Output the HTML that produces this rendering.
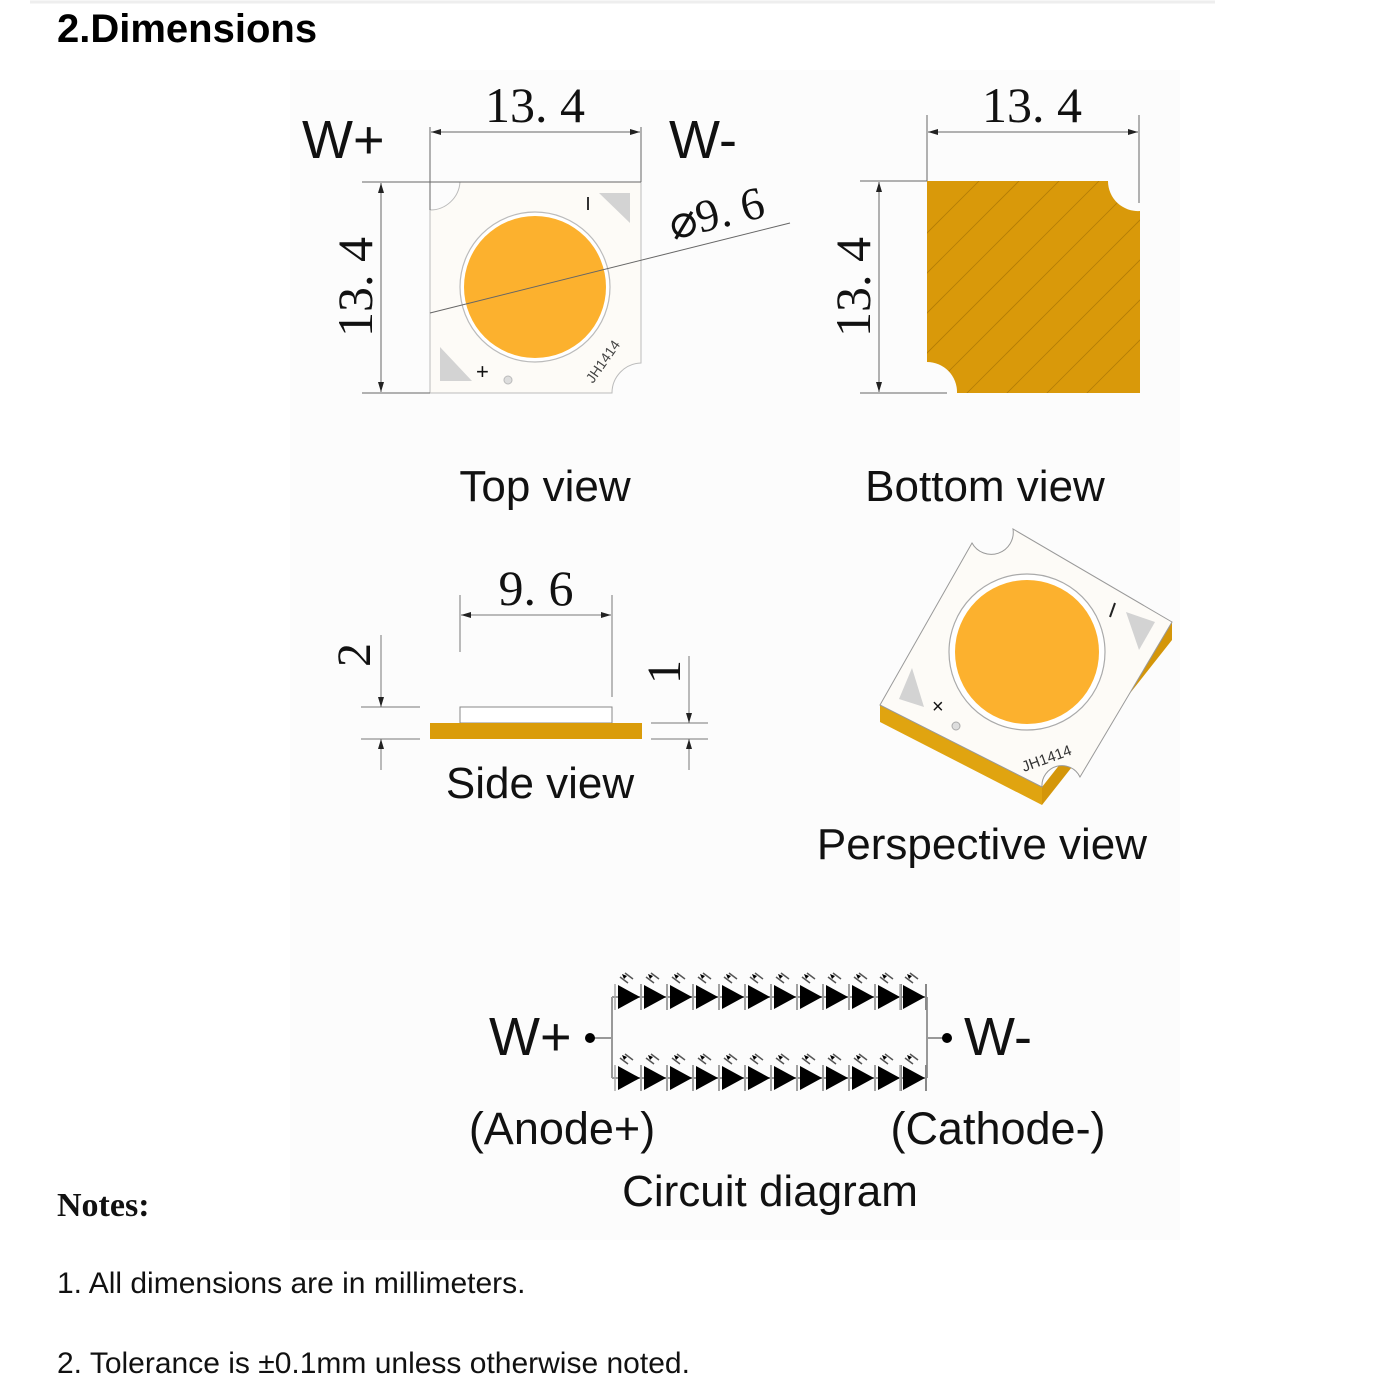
<!DOCTYPE html>
<html><head><meta charset="utf-8"><style>
html,body{margin:0;padding:0;background:#fff;}
svg{display:block}
</style></head><body>
<svg width="1400" height="1400" viewBox="0 0 1400 1400" xmlns="http://www.w3.org/2000/svg">
<defs>
<marker id="ar" viewBox="0 0 10 6" refX="10" refY="3" markerWidth="10" markerHeight="6" orient="auto-start-reverse" markerUnits="userSpaceOnUse"><path d="M0,0L10,3L0,6z" fill="#222"/></marker>
<g id="d">
<path d="M0,-12L0,12L22,0z" fill="#000"/>
<line x1="23" y1="-13" x2="23" y2="13" stroke="#888" stroke-width="2"/>
<line x1="-3" y1="-13" x2="-3" y2="13" stroke="#aaa" stroke-width="1.5"/>
<line x1="2" y1="-20" x2="10" y2="-14" stroke="#555" stroke-width="1.5"/>
<line x1="7" y1="-24" x2="15" y2="-18" stroke="#555" stroke-width="1.5"/>
<path d="M4,-23l5,2l-3,3z" fill="#000"/>
</g>
</defs>
<rect width="1400" height="1400" fill="#fff"/>
<rect x="290" y="70" width="890" height="1170" fill="#fcfcfc"/>
<line x1="30" y1="2" x2="1215" y2="2" stroke="#eee" stroke-width="3"/>
<text x="57" y="42" font-family="Liberation Sans, sans-serif" font-weight="bold" font-size="40">2.Dimensions</text>

<g font-family="Liberation Serif, serif" fill="#111">
<!-- TOP VIEW -->
<path d="M430,210 A30,30 0 0 0 460,182 L641,182 L641,363 A30,30 0 0 0 612,393 L430,393 Z" fill="#fdfbf7" stroke="#bbb" stroke-width="1"/>
<circle cx="535" cy="287" r="75" fill="#fff" stroke="#bbb" stroke-width="1.2"/>
<circle cx="535" cy="287" r="71" fill="#fcb12e"/>
<path d="M599,193L630,193L630,223z" fill="#d3d3d3"/>
<path d="M440,347L440,381L472,381z" fill="#d3d3d3"/>
<line x1="588" y1="197" x2="588" y2="210" stroke="#333" stroke-width="2"/>
<text x="476" y="379" font-family="Liberation Sans, sans-serif" font-size="22">+</text>
<circle cx="508" cy="380" r="4" fill="#ddd" stroke="#bbb"/>
<text transform="translate(593,384) rotate(-55)" font-family="Liberation Sans, sans-serif" font-size="14" fill="#444">JH1414</text>
<g stroke="#666" stroke-width="1" fill="none">
<line x1="430" y1="127" x2="430" y2="210"/>
<line x1="641" y1="127" x2="641" y2="182"/>
<line x1="362" y1="182" x2="641" y2="182"/>
<line x1="362" y1="393" x2="430" y2="393"/>
<line x1="431" y1="132" x2="640" y2="132" marker-start="url(#ar)" marker-end="url(#ar)"/>
<line x1="381" y1="183" x2="381" y2="392" marker-start="url(#ar)" marker-end="url(#ar)"/>
<line x1="430" y1="313" x2="790" y2="223"/>
</g>
<text x="535" y="122" font-size="50" text-anchor="middle">13. 4</text>
<text transform="translate(372,287) rotate(-90)" font-size="50" text-anchor="middle">13. 4</text>
<text transform="translate(720,228) rotate(-14)" font-size="46" text-anchor="middle">⌀9. 6</text>
<text x="302" y="158" font-family="Liberation Sans, sans-serif" font-size="54">W+</text>
<text x="669" y="158" font-family="Liberation Sans, sans-serif" font-size="54">W-</text>

<!-- BOTTOM VIEW -->
<clipPath id="bc"><path d="M927,181 L1108,181 A30,30 0 0 0 1140,211 L1140,393 L957,393 A30,30 0 0 0 927,362 Z"/></clipPath>
<path d="M927,181 L1108,181 A30,30 0 0 0 1140,211 L1140,393 L957,393 A30,30 0 0 0 927,362 Z" fill="#d9990a"/>
<g clip-path="url(#bc)" stroke="#9a6a05" stroke-width="0.8" opacity="0.6">
<line x1="860" y1="460" x2="1140" y2="180"/>
<line x1="900" y1="460" x2="1180" y2="180"/>
<line x1="940" y1="460" x2="1220" y2="180"/>
<line x1="820" y1="460" x2="1100" y2="180"/>
<line x1="780" y1="460" x2="1060" y2="180"/>
<line x1="740" y1="460" x2="1020" y2="180"/>
<line x1="980" y1="460" x2="1260" y2="180"/>
<line x1="1020" y1="460" x2="1300" y2="180"/>
<line x1="700" y1="460" x2="980" y2="180"/>
</g>
<g stroke="#666" stroke-width="1" fill="none">
<line x1="927" y1="115" x2="927" y2="181"/>
<line x1="1139" y1="115" x2="1139" y2="203"/>
<line x1="860" y1="181" x2="927" y2="181"/>
<line x1="860" y1="393" x2="947" y2="393"/>
<line x1="928" y1="132" x2="1138" y2="132" marker-start="url(#ar)" marker-end="url(#ar)"/>
<line x1="879" y1="182" x2="879" y2="392" marker-start="url(#ar)" marker-end="url(#ar)"/>
</g>
<text x="1032" y="122" font-size="50" text-anchor="middle">13. 4</text>
<text transform="translate(870,287) rotate(-90)" font-size="50" text-anchor="middle">13. 4</text>
</g>

<g font-family="Liberation Sans, sans-serif" fill="#111" font-size="44">
<text x="545" y="501" text-anchor="middle">Top view</text>
<text x="985" y="501" text-anchor="middle">Bottom view</text>
<text x="540" y="798" text-anchor="middle">Side view</text>
<text x="982" y="859" text-anchor="middle">Perspective view</text>
</g>

<!-- SIDE VIEW -->
<g font-family="Liberation Serif, serif" fill="#111">
<rect x="460" y="707" width="152" height="16" fill="#fff" stroke="#888"/>
<rect x="430" y="723" width="212" height="16" fill="#da9c0a"/>
<g stroke="#777" stroke-width="1" fill="none">
<line x1="460" y1="595" x2="460" y2="652"/>
<line x1="612" y1="595" x2="612" y2="697"/>
<line x1="461" y1="615" x2="611" y2="615" marker-start="url(#ar)" marker-end="url(#ar)"/>
<line x1="361" y1="707" x2="420" y2="707"/>
<line x1="361" y1="739" x2="420" y2="739"/>
<line x1="381" y1="635" x2="381" y2="707" marker-end="url(#ar)"/>
<line x1="381" y1="770" x2="381" y2="739" marker-end="url(#ar)"/>
<line x1="651" y1="723" x2="708" y2="723"/>
<line x1="651" y1="739" x2="708" y2="739"/>
<line x1="689" y1="656" x2="689" y2="723" marker-end="url(#ar)"/>
<line x1="689" y1="770" x2="689" y2="739" marker-end="url(#ar)"/>
</g>
<text x="536" y="605" font-size="50" text-anchor="middle">9. 6</text>
<text transform="translate(370,655) rotate(-90)" font-size="48" text-anchor="middle">2</text>
<text transform="translate(680,672) rotate(-90)" font-size="48" text-anchor="middle">1</text>
</g>

<!-- PERSPECTIVE -->
<path d="M880,705 L1042,787 L1042,805 L880,722 Z" fill="#e0a410"/>
<path d="M1042,787 L1172,622 L1172,640 L1042,805 Z" fill="#d4960a"/>
<path d="M880,705 L972,543 A22,22 0 0 0 1013,529 L1172,622 L1080,777 A20,20 0 0 0 1042,787 Z" fill="#fdfbf7" stroke="#999" stroke-width="1"/>
<circle cx="1027" cy="652" r="78" fill="#fff" stroke="#aaa" stroke-width="1.2"/>
<circle cx="1027" cy="652" r="72" fill="#fcb12e"/>
<path d="M1126,612 L1155,622 L1139,650 Z" fill="#d3d3d3"/>
<path d="M912,668 L924,707 L899,699 Z" fill="#d3d3d3"/>
<line x1="1115" y1="603" x2="1110" y2="617" stroke="#222" stroke-width="2"/>
<text x="932" y="713" font-family="Liberation Sans, sans-serif" font-size="20" fill="#111">×</text>
<circle cx="956" cy="726" r="4" fill="#ddd" stroke="#aaa"/>
<text transform="translate(1024,772) rotate(-20)" font-family="Liberation Sans, sans-serif" font-size="15" fill="#333">JH1414</text>

<!-- CIRCUIT -->
<g stroke="#999" stroke-width="2" fill="none">
<line x1="612" y1="997" x2="927" y2="997"/>
<line x1="612" y1="1078" x2="927" y2="1078"/>
<line x1="612" y1="997" x2="612" y2="1078"/>
<line x1="927" y1="997" x2="927" y2="1078"/>
<line x1="590" y1="1038" x2="612" y2="1038"/>
<line x1="927" y1="1038" x2="947" y2="1038"/>
</g>
<circle cx="590" cy="1038" r="5" fill="#000"/>
<circle cx="947" cy="1038" r="5" fill="#000"/>
<g>
<use href="#d" x="618" y="997"/><use href="#d" x="644" y="997"/><use href="#d" x="670" y="997"/><use href="#d" x="696" y="997"/>
<use href="#d" x="722" y="997"/><use href="#d" x="748" y="997"/><use href="#d" x="774" y="997"/><use href="#d" x="800" y="997"/>
<use href="#d" x="826" y="997"/><use href="#d" x="852" y="997"/><use href="#d" x="878" y="997"/><use href="#d" x="903" y="997"/>
<use href="#d" x="618" y="1078"/><use href="#d" x="644" y="1078"/><use href="#d" x="670" y="1078"/><use href="#d" x="696" y="1078"/>
<use href="#d" x="722" y="1078"/><use href="#d" x="748" y="1078"/><use href="#d" x="774" y="1078"/><use href="#d" x="800" y="1078"/>
<use href="#d" x="826" y="1078"/><use href="#d" x="852" y="1078"/><use href="#d" x="878" y="1078"/><use href="#d" x="903" y="1078"/>
</g>
<g font-family="Liberation Sans, sans-serif" fill="#111">
<text x="489" y="1055" font-size="54">W+</text>
<text x="964" y="1055" font-size="54">W-</text>
<text x="562" y="1144" font-size="45" text-anchor="middle">(Anode+)</text>
<text x="998" y="1144" font-size="45" text-anchor="middle">(Cathode-)</text>
<text x="770" y="1206" font-size="44" text-anchor="middle">Circuit diagram</text>
<text x="57" y="1293" font-size="30">1. All dimensions are in millimeters.</text>
<text x="57" y="1373" font-size="30">2. Tolerance is  ±0.1mm unless otherwise noted.</text>
</g>
<text x="57" y="1216" font-family="Liberation Serif, serif" font-weight="bold" font-size="34" fill="#111">Notes:</text>
</svg>
</body></html>
